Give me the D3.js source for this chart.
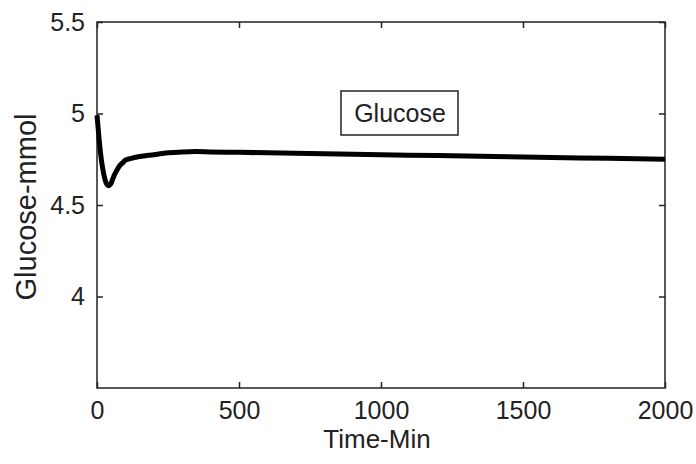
<!DOCTYPE html>
<html><head><meta charset="utf-8">
<script src="https://cdn.jsdelivr.net/npm/d3@7"></script>
<style>body{margin:0;background:#fff}svg text{font-family:"Liberation Sans",Arial,sans-serif;fill:#222}</style>
</head><body><svg id="c" width="696" height="464"></svg>
<script>
const times   = [0, 4, 8, 12, 16, 20, 25, 30, 35, 40, 45, 50, 55, 60, 70, 80, 90, 100, 120, 150, 200, 250, 300, 350, 400, 500, 600, 800, 1000, 1200, 1400, 1600, 1800, 2000];
const glucose = [4.99, 4.92, 4.85, 4.79, 4.74, 4.70, 4.66, 4.63, 4.612, 4.605, 4.61, 4.62, 4.64, 4.66, 4.69, 4.715, 4.73, 4.745, 4.755, 4.765, 4.775, 4.785, 4.79, 4.792, 4.79, 4.788, 4.785, 4.78, 4.775, 4.77, 4.765, 4.76, 4.755, 4.75];
const xTicks = [0, 500, 1000, 1500, 2000];
const yTicks = [4, 4.5, 5, 5.5];
const xLabel = "Time-Min", yLabel = "Glucose-mmol", legendLabel = "Glucose";

const svg = d3.select("#c");
const L = 97, R = 665, T = 22, B = 388;
const x = d3.scaleLinear().domain([0, 2000]).range([L, R]);
const y = d3.scaleLinear().domain([3.5, 5.5]).range([B, T]);
const fs = 25;

svg.append("rect").attr("x", L).attr("y", T).attr("width", R - L).attr("height", B - T)
  .attr("fill", "#fff").attr("stroke", "#222").attr("stroke-width", 1.5);

const ax = (g) => { g.select(".domain").remove(); g.selectAll("line").attr("stroke", "#222").attr("stroke-width", 1.5); g.selectAll("text").style("font-size", fs + "px").attr("fill", "#222"); };
svg.append("g").attr("transform", `translate(0,${B})`).call(d3.axisBottom(x).tickValues(xTicks).tickSize(-6).tickPadding(13).tickFormat(d3.format("d"))).call(ax);
svg.append("g").attr("transform", `translate(0,${T})`).call(d3.axisTop(x).tickValues(xTicks).tickSize(-6).tickFormat("")).call(ax);
svg.append("g").attr("transform", `translate(${L},0)`).call(d3.axisLeft(y).tickValues(yTicks).tickSize(-6).tickPadding(12).tickFormat(d => String(d))).call(ax);
svg.append("g").attr("transform", `translate(${R},0)`).call(d3.axisRight(y).tickValues(yTicks).tickSize(-6).tickFormat("")).call(ax);

svg.append("path").datum(times.map((t, i) => [t, glucose[i]]))
  .attr("fill", "none").attr("stroke", "#000").attr("stroke-width", 5).attr("stroke-linejoin", "round")
  .attr("d", d3.line().x(d => x(d[0])).y(d => y(d[1])).curve(d3.curveMonotoneX));

svg.append("text").attr("x", 377).attr("y", 448).attr("text-anchor", "middle").style("font-size", "26px").text(xLabel);
svg.append("text").attr("transform", `translate(36,${(T + B) / 2 + 2}) rotate(-90)`).attr("text-anchor", "middle").style("font-size", "29px").text(yLabel);

svg.append("rect").attr("x", 341).attr("y", 91).attr("width", 117).attr("height", 44).attr("fill", "#fff").attr("stroke", "#222").attr("stroke-width", 1.5);
svg.append("text").attr("x", 400).attr("y", 122).attr("text-anchor", "middle").style("font-size", fs + "px").text(legendLabel);
</script></body></html>
